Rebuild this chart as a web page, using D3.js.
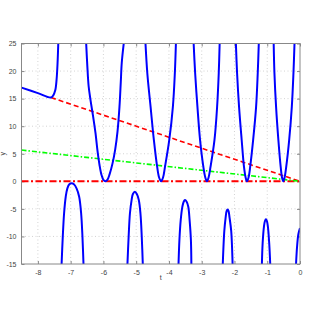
<!DOCTYPE html>
<html>
<head>
<meta charset="utf-8">
<script src="https://cdn.jsdelivr.net/npm/d3@7"></script>
<style>
  body { margin: 0; background: #fff; }
  text { font-family: "Liberation Sans", Arial, sans-serif; }
</style>
</head>
<body>
<script>
// valores: [t, y]
var branchA = [[-8.5,17.0],[-8.0,16.0],[-7.6,15.2],[-7.53,15.6],[-7.47,16.5],[-7.43,18.4],[-7.40,21.4],[-7.375,25.5]];
var branchB = [[-6.53,25.5],[-6.49,20.8],[-6.45,17.2],[-6.39,14.6],[-6.31,11.6],[-6.24,8.7],[-6.18,5.5],[-6.12,3.0],[-6.06,1.2],[-6.0,0.25],[-5.94,0],[-5.88,0.25],[-5.81,1.3],[-5.72,3.3],[-5.64,5.8],[-5.57,9.0],[-5.51,13.5],[-5.47,18.0],[-5.44,21.5],[-5.37,25.5]];
var branchC = [[-4.72,25.5],[-4.66,19.6],[-4.56,13.5],[-4.46,7.5],[-4.36,2.65],[-4.30,0.7],[-4.24,0],[-4.18,0.7],[-4.12,2.65],[-3.99,7.5],[-3.88,13.5],[-3.82,19.6],[-3.785,25.5]];
var branchD = [[-3.25,25.5],[-3.20,19.6],[-3.13,13.5],[-3.05,7.5],[-2.95,2.65],[-2.89,0.7],[-2.84,0],[-2.79,0.7],[-2.73,2.65],[-2.61,7.5],[-2.53,13.5],[-2.48,19.6],[-2.45,25.5]];
var branchE = [[-1.96,25.5],[-1.92,19.6],[-1.86,13.5],[-1.78,7.5],[-1.71,2.65],[-1.66,0.7],[-1.62,0],[-1.57,0.7],[-1.52,2.65],[-1.43,7.5],[-1.34,13.5],[-1.29,19.6],[-1.255,25.5]];
var branchF = [[-0.805,25.5],[-0.78,19.6],[-0.73,13.5],[-0.66,7.5],[-0.59,2.65],[-0.55,0.7],[-0.51,0],[-0.47,0.7],[-0.42,2.65],[-0.33,7.5],[-0.25,13.5],[-0.20,19.6],[-0.165,25.5]];
var lowerA = [[-7.28,-15.5],[-7.24,-10.0],[-7.20,-5.8],[-7.15,-2.8],[-7.10,-1.27],[-7.04,-0.55],[-6.97,-0.37],[-6.90,-0.55],[-6.82,-1.27],[-6.74,-2.8],[-6.68,-5.8],[-6.64,-10.0],[-6.605,-15.5]];
var lowerB = [[-5.27,-15.5],[-5.23,-10.0],[-5.19,-5.8],[-5.14,-3.4],[-5.10,-2.3],[-5.04,-1.9],[-4.98,-2.3],[-4.92,-3.4],[-4.87,-5.8],[-4.83,-10.0],[-4.795,-15.5]];
var lowerC = [[-3.71,-15.5],[-3.68,-10.6],[-3.64,-7.0],[-3.59,-4.6],[-3.55,-3.7],[-3.51,-3.4],[-3.46,-3.7],[-3.41,-4.6],[-3.37,-7.0],[-3.33,-10.6],[-3.315,-15.5]];
var lowerD = [[-2.36,-15.5],[-2.31,-9.0],[-2.27,-6.6],[-2.24,-5.4],[-2.21,-5.1],[-2.18,-5.4],[-2.15,-6.6],[-2.10,-9.0],[-2.055,-15.5]];
var lowerE = [[-1.165,-15.5],[-1.14,-11.2],[-1.10,-8.2],[-1.07,-7.2],[-1.04,-6.9],[-1.01,-7.2],[-0.98,-8.2],[-0.94,-11.2],[-0.905,-15.5]];
var lowerF = [[-0.125,-15.5],[-0.09,-11.9],[-0.05,-9.6],[0,-8.5]];

var redDashed = [[-7.6,15.2],[0,0]];
var greenDashDot = [[-8.5,5.67],[0,0]];
var redZero = [[-8.5,0],[0,0]];

var xTicks = [-8,-7,-6,-5,-4,-3,-2,-1,0];
var yTicks = [-15,-10,-5,0,5,10,15,20,25];

var W = 314, H = 319;
var box = { left: 21.5, top: 43.5, right: 300, bottom: 264 };

var svg = d3.select("body").append("svg")
    .attr("width", W)
    .attr("height", H);

var xScale = d3.scaleLinear().domain([-8.5, 0]).range([box.left, box.right]);
var yScale = d3.scaleLinear().domain([-15, 25]).range([box.bottom, box.top]);

svg.append("clipPath").attr("id", "clip")
  .append("rect")
    .attr("x", box.left).attr("y", box.top)
    .attr("width", box.right - box.left).attr("height", box.bottom - box.top);

// rejilla
svg.append("g").selectAll("line").data(xTicks.slice(0, -1)).enter().append("line")
    .attr("x1", function(d){ return xScale(d); }).attr("x2", function(d){ return xScale(d); })
    .attr("y1", box.top).attr("y2", box.bottom)
    .attr("stroke", "#c8c8c8").attr("stroke-width", 0.8).attr("stroke-dasharray", "1,2.5");
svg.append("g").selectAll("line").data(yTicks.slice(1, -1)).enter().append("line")
    .attr("y1", function(d){ return yScale(d); }).attr("y2", function(d){ return yScale(d); })
    .attr("x1", box.left).attr("x2", box.right)
    .attr("stroke", "#c8c8c8").attr("stroke-width", 0.8).attr("stroke-dasharray", "1,2.5");

// ejes con ticks hacia dentro
var fmt = function(d){ return String(d); };
var xAxisB = d3.axisBottom(xScale).tickValues(xTicks).tickSizeInner(-3).tickSizeOuter(0).tickPadding(6).tickFormat(fmt);
var xAxisT = d3.axisTop(xScale).tickValues(xTicks).tickSizeInner(-3).tickSizeOuter(0).tickFormat("");
var yAxisL = d3.axisLeft(yScale).tickValues(yTicks).tickSizeInner(-3).tickSizeOuter(0).tickPadding(5).tickFormat(fmt);
var yAxisR = d3.axisRight(yScale).tickValues(yTicks).tickSizeInner(-3).tickSizeOuter(0).tickFormat("");

function styleAxis(g) {
  g.select(".domain").remove();
  g.selectAll(".tick line").attr("stroke", "#888");
  g.selectAll("text").attr("font-size", "7px").attr("fill", "#444");
}
svg.append("g").attr("transform", "translate(0," + box.bottom + ")").call(xAxisB).call(styleAxis);
svg.append("g").attr("transform", "translate(0," + box.top + ")").call(xAxisT).call(styleAxis);
svg.append("g").attr("transform", "translate(" + box.left + ",0)").call(yAxisL).call(styleAxis);
svg.append("g").attr("transform", "translate(" + box.right + ",0)").call(yAxisR).call(styleAxis);

var plot = svg.append("g").attr("clip-path", "url(#clip)");

var line = d3.line()
    .x(function(d){ return xScale(d[0]); })
    .y(function(d){ return yScale(d[1]); });
var curve = d3.line()
    .x(function(d){ return xScale(d[0]); })
    .y(function(d){ return yScale(d[1]); })
    .curve(d3.curveCatmullRom.alpha(0.5));

plot.append("path").attr("d", line(redZero))
    .attr("fill", "none").attr("stroke", "#ff0000").attr("stroke-width", 2)
    .attr("stroke-dasharray", "7,2.5,2,2.5");
plot.append("path").attr("d", line(redDashed))
    .attr("fill", "none").attr("stroke", "#ff0000").attr("stroke-width", 1.6)
    .attr("stroke-dasharray", "5,3");
plot.append("path").attr("d", line(greenDashDot))
    .attr("fill", "none").attr("stroke", "#00ff00").attr("stroke-width", 1.6)
    .attr("stroke-dasharray", "5,2,1.5,2");

var branches = [branchA, branchB, branchC, branchD, branchE, branchF,
                lowerA, lowerB, lowerC, lowerD, lowerE, lowerF];
plot.selectAll("path.blue").data(branches).enter().append("path")
    .attr("class", "blue")
    .attr("d", curve)
    .attr("fill", "none").attr("stroke", "#0000ff").attr("stroke-width", 2);

// caja
svg.append("rect")
    .attr("x", box.left).attr("y", box.top)
    .attr("width", box.right - box.left).attr("height", box.bottom - box.top)
    .attr("fill", "none").attr("stroke", "#888").attr("stroke-width", 1);

// titulos de ejes
svg.append("text")
    .attr("x", xScale(-4.25)).attr("y", 280)
    .attr("text-anchor", "middle").attr("font-size", "7px").attr("fill", "#444")
    .text("t");
svg.append("text")
    .attr("transform", "translate(5," + yScale(5) + ") rotate(-90)")
    .attr("text-anchor", "middle").attr("font-size", "7px").attr("fill", "#444")
    .text("y");
</script>
</body>
</html>
